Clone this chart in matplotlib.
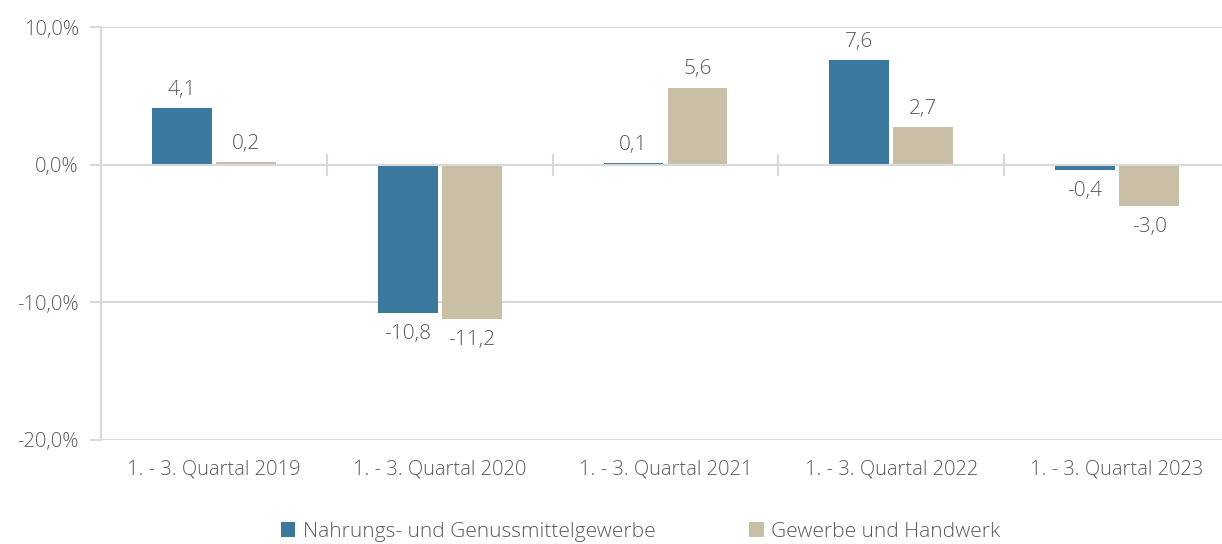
import matplotlib
matplotlib.use("Agg")
import matplotlib.pyplot as plt
import numpy as np
from matplotlib.patches import Patch
from matplotlib.ticker import FuncFormatter

categories = ["1. - 3. Quartal 2019", "1. - 3. Quartal 2020", "1. - 3. Quartal 2021",
              "1. - 3. Quartal 2022", "1. - 3. Quartal 2023"]
series_names = ["Nahrungs- und Genussmittelgewerbe", "Gewerbe und Handwerk"]
nahrung = [4.1, -10.8, 0.1, 7.6, -0.4]
gewerbe = [0.2, -11.2, 5.6, 2.7, -3.0]
yticks = [-20, -10, 0, 10]

colors = ["#3B789E", "#C9BFA7"]
text_color = "#595959"
grid_color = "#D9D9D9"

plt.rcParams['font.family'] = ['Open Sans', 'DejaVu Sans']
plt.rcParams['font.weight'] = 'light'

fig = plt.figure(figsize=(12.22, 5.44), dpi=100)
ax = fig.add_axes([101/1222, 1 - 440/544, 1129/1222, (440 - 27)/544])

x = np.arange(len(categories))
w = 0.265
offs = [-0.142, 0.142]
for vals, off, c in zip([nahrung, gewerbe], offs, colors):
    ax.bar(x + off, vals, width=w, color=c, zorder=3)
    for xi, v in zip(x + off, vals):
        if v >= 0:
            ax.annotate(f"{v:.1f}".replace(".", ","), (xi, v), xytext=(0, 6),
                        textcoords="offset points", ha="center", va="bottom",
                        fontsize=15, color=text_color)
        else:
            ax.annotate(f"{v:.1f}".replace(".", ","), (xi, v), xytext=(0, -8),
                        textcoords="offset points", ha="center", va="top",
                        fontsize=15, color=text_color)

ax.set_xlim(-0.5, len(categories) - 0.5)
ax.set_ylim(-20, 10)
ax.set_yticks(yticks)
ax.yaxis.set_major_formatter(FuncFormatter(lambda v, p: f"{v:.1f}%".replace(".", ",")))
ax.tick_params(axis='y', length=8, color=grid_color, width=1.5, labelsize=14.5,
               labelcolor=text_color, pad=8)
ax.grid(axis='y', color=grid_color, linewidth=1.5, zorder=0)
ax.set_axisbelow(True)

for s in ["top", "right"]:
    ax.spines[s].set_visible(False)
ax.spines["left"].set_color(grid_color)
ax.spines["left"].set_linewidth(1.5)
ax.spines["bottom"].set_position(("data", 0))
ax.spines["bottom"].set_color(grid_color)
ax.spines["bottom"].set_linewidth(1.5)
ax.spines["bottom"].set_zorder(4)

ax.set_xticks(np.arange(len(categories) + 1) - 0.5)
ax.set_xticklabels([])
ax.tick_params(axis='x', direction='inout', length=16, color=grid_color, width=1.5)

sec = ax.secondary_xaxis(0)
sec.set_xticks(x)
sec.set_xticklabels(categories)
sec.tick_params(length=0, labelsize=14.5, labelcolor=text_color, pad=14)
sec.spines["bottom"].set_visible(False)

handles = [Patch(facecolor=c, edgecolor='none') for c in colors]
fig.legend(handles, series_names, loc="lower center", bbox_to_anchor=(0.524, -0.03),
           ncol=2, frameon=False, fontsize=15, handlelength=0.7, handleheight=0.7,
           handletextpad=0.35, columnspacing=4.5, labelcolor=text_color)

fig.savefig("out.png", dpi=100)
